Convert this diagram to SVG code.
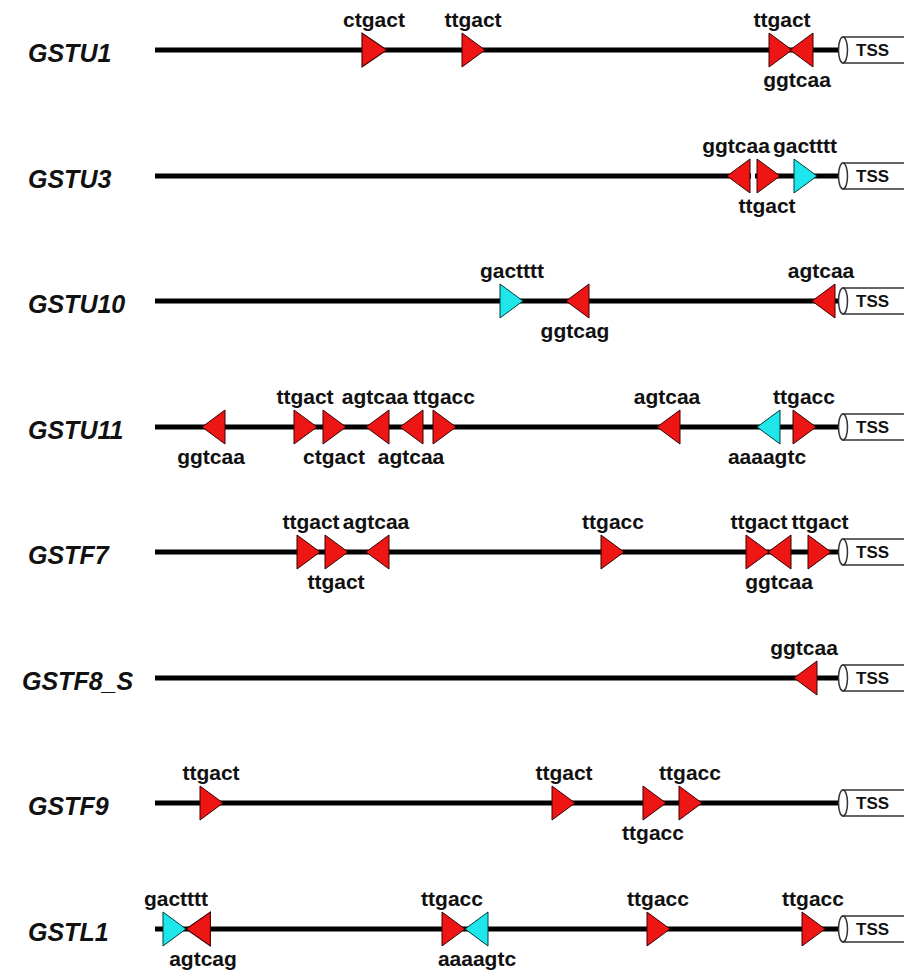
<svg xmlns="http://www.w3.org/2000/svg" width="904" height="973" viewBox="0 0 904 973">
  <style>
    .gene { font-family: "Liberation Sans", Arial, sans-serif; font-weight: bold; font-style: italic; font-size: 25px; fill: #111; }
    .lbl { font-family: "Liberation Sans", Arial, sans-serif; font-weight: bold; font-size: 21px; fill: #111; text-anchor: middle; }
    .dna { stroke: #000; stroke-width: 5; }
    .red { fill: #ee1515; stroke: #3a0000; stroke-width: 1; }
    .cyan { fill: #1ee6ea; stroke: #003a3a; stroke-width: 1; }
    .tssbox { fill: #fff; stroke: #333; stroke-width: 1.5; }
    .tss { font-family: "Liberation Sans", Arial, sans-serif; font-weight: bold; font-size: 17px; fill: #111; }
  </style>
  <defs>
    <!-- promoter end: cylinder pointing to the transcription start site -->
    <g id="tss">
      <path class="tssbox" d="M843,-13 H910 V13 H843 Z"/>
      <ellipse class="tssbox" cx="843" cy="0" rx="4.5" ry="13"/>
      <text class="tss" x="856" y="6">TSS</text>
    </g>
    <!-- motif arrowheads, origin at the left end of the line -->
    <polygon id="fw" points="0,-17 0,17 23,0"/>
    <polygon id="rv" points="23,-17 23,17 0,0"/>
  </defs>
  <rect width="904" height="973" fill="#fff"/>

  <g id="GSTU1" transform="translate(0,50)">
    <text class="gene" x="28" y="12">GSTU1</text>
    <line class="dna" x1="155" y1="0" x2="840" y2="0"/>
    <use href="#tss"/>
    <g class="red" transform="translate(362,0) scale(1.08,1)"><use href="#fw"/></g>
    <text class="lbl" x="374" y="-23">ctgact</text>
    <use class="red" href="#fw" x="462"/>
    <text class="lbl" x="473" y="-23">ttgact</text>
    <use class="red" href="#fw" x="769"/>
    <text class="lbl" x="782" y="-23">ttgact</text>
    <use class="red" href="#rv" x="790"/>
    <text class="lbl" x="797" y="37">ggtcaa</text>
  </g>

  <g id="GSTU3" transform="translate(0,176)">
    <text class="gene" x="28" y="12">GSTU3</text>
    <line class="dna" x1="155" y1="0" x2="840" y2="0"/>
    <rect x="751" y="-4" width="4" height="8" fill="#fff"/>
    <use href="#tss"/>
    <use class="red" href="#rv" x="727"/>
    <text class="lbl" x="736" y="-23">ggtcaa</text>
    <use class="red" href="#fw" x="757"/>
    <text class="lbl" x="767" y="37">ttgact</text>
    <use class="cyan" href="#fw" x="794"/>
    <text class="lbl" x="805" y="-23">gactttt</text>
  </g>

  <g id="GSTU10" transform="translate(0,301)">
    <text class="gene" x="28" y="12">GSTU10</text>
    <line class="dna" x1="155" y1="0" x2="840" y2="0"/>
    <use href="#tss"/>
    <use class="cyan" href="#fw" x="500"/>
    <text class="lbl" x="512" y="-23">gactttt</text>
    <use class="red" href="#rv" x="566"/>
    <text class="lbl" x="575" y="37">ggtcag</text>
    <use class="red" href="#rv" x="812"/>
    <text class="lbl" x="821" y="-23">agtcaa</text>
  </g>

  <g id="GSTU11" transform="translate(0,427)">
    <text class="gene" x="28" y="12">GSTU11</text>
    <line class="dna" x1="155" y1="0" x2="840" y2="0"/>
    <use href="#tss"/>
    <use class="red" href="#rv" x="202"/>
    <text class="lbl" x="211" y="37">ggtcaa</text>
    <use class="red" href="#fw" x="294"/>
    <text class="lbl" x="305" y="-23">ttgact</text>
    <use class="red" href="#fw" x="323"/>
    <text class="lbl" x="334" y="37">ctgact</text>
    <use class="red" href="#rv" x="366"/>
    <text class="lbl" x="375" y="-23">agtcaa</text>
    <use class="red" href="#rv" x="400"/>
    <text class="lbl" x="411" y="37">agtcaa</text>
    <use class="red" href="#fw" x="433"/>
    <text class="lbl" x="444" y="-23">ttgacc</text>
    <use class="red" href="#rv" x="657"/>
    <text class="lbl" x="667" y="-23">agtcaa</text>
    <use class="cyan" href="#rv" x="757"/>
    <text class="lbl" x="767" y="37">aaaagtc</text>
    <use class="red" href="#fw" x="793"/>
    <text class="lbl" x="804" y="-23">ttgacc</text>
  </g>

  <g id="GSTF7" transform="translate(0,552)">
    <text class="gene" x="28" y="12">GSTF7</text>
    <line class="dna" x1="155" y1="0" x2="840" y2="0"/>
    <use href="#tss"/>
    <use class="red" href="#fw" x="297"/>
    <text class="lbl" x="311" y="-23">ttgact</text>
    <use class="red" href="#fw" x="325"/>
    <text class="lbl" x="336" y="37">ttgact</text>
    <use class="red" href="#rv" x="366"/>
    <text class="lbl" x="376" y="-23">agtcaa</text>
    <use class="red" href="#fw" x="601"/>
    <text class="lbl" x="613" y="-23">ttgacc</text>
    <use class="red" href="#fw" x="746"/>
    <text class="lbl" x="759" y="-23">ttgact</text>
    <use class="red" href="#rv" x="768"/>
    <text class="lbl" x="779" y="37">ggtcaa</text>
    <use class="red" href="#fw" x="808"/>
    <text class="lbl" x="820" y="-23">ttgact</text>
  </g>

  <g id="GSTF8_S" transform="translate(0,678)">
    <text class="gene" x="22" y="12">GSTF8_S</text>
    <line class="dna" x1="155" y1="0" x2="840" y2="0"/>
    <use href="#tss"/>
    <use class="red" href="#rv" x="794"/>
    <text class="lbl" x="804" y="-23">ggtcaa</text>
  </g>

  <g id="GSTF9" transform="translate(0,803)">
    <text class="gene" x="28" y="12">GSTF9</text>
    <line class="dna" x1="155" y1="0" x2="840" y2="0"/>
    <use href="#tss"/>
    <use class="red" href="#fw" x="200"/>
    <text class="lbl" x="211" y="-23">ttgact</text>
    <use class="red" href="#fw" x="552"/>
    <text class="lbl" x="564" y="-23">ttgact</text>
    <use class="red" href="#fw" x="643"/>
    <text class="lbl" x="653" y="37">ttgacc</text>
    <use class="red" href="#fw" x="679"/>
    <text class="lbl" x="690" y="-23">ttgacc</text>
  </g>

  <g id="GSTL1" transform="translate(0,929)">
    <text class="gene" x="28" y="12">GSTL1</text>
    <line class="dna" x1="155" y1="0" x2="840" y2="0"/>
    <use href="#tss"/>
    <use class="cyan" href="#fw" x="163"/>
    <text class="lbl" x="176" y="-23">gactttt</text>
    <g class="red" transform="translate(186,0) scale(1.06,1)"><use href="#rv"/></g>
    <text class="lbl" x="203" y="37">agtcag</text>
    <use class="red" href="#fw" x="442"/>
    <text class="lbl" x="452" y="-23">ttgacc</text>
    <use class="cyan" href="#rv" x="465"/>
    <text class="lbl" x="477" y="37">aaaagtc</text>
    <use class="red" href="#fw" x="647"/>
    <text class="lbl" x="658" y="-23">ttgacc</text>
    <use class="red" href="#fw" x="802"/>
    <text class="lbl" x="813" y="-23">ttgacc</text>
  </g>
</svg>
